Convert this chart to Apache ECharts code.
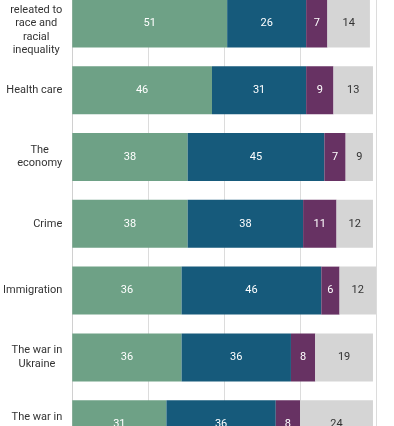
<!DOCTYPE html>
<html>
<head>
<meta charset="utf-8">
<script src="https://cdn.jsdelivr.net/npm/echarts@6/dist/echarts.min.js"></script>
<style>
html,body{margin:0;padding:0;overflow:hidden;width:394px;height:426px;background:#fff;}
#c{position:absolute;left:0;top:-20px;width:394px;height:500px;}
</style>
</head>
<body>
<div id="c"></div>
<script>
const categories = [
  "Issues\nreleated to\nrace and\nracial\ninequality",
  "Health care",
  "The\neconomy",
  "Crime",
  "Immigration",
  "The war in\nUkraine",
  "The war in\nGaza"
];
const seriesA = [51, 46, 38, 38, 36, 36, 31];
const seriesB = [26, 31, 45, 38, 46, 36, 36];
const seriesC = [7, 9, 7, 11, 6, 8, 8];
const seriesD = [14, 13, 9, 12, 12, 19, 24];
const xTicks = [0, 25, 50, 75, 100];

const colors = ['#6ea186', '#165a7b', '#673263', '#d5d5d5'];
const labelColors = ['#fff', '#fff', '#fff', '#333'];
const chart = echarts.init(document.getElementById('c'));
const mk = (name, data, i) => ({
  name, type: 'bar', stack: 'all', data,
  barWidth: 48,
  itemStyle: { color: colors[i] },
  label: { show: true, position: 'inside', color: labelColors[i], fontSize: 11, fontFamily: 'Roboto' },
  silent: true
});
chart.setOption({
  animation: false,
  grid: { left: 71, right: 18, top: 10, bottom: 22.4, containLabel: false },
  xAxis: {
    type: 'value', min: xTicks[0], max: xTicks[xTicks.length - 1], interval: xTicks[1] - xTicks[0],
    axisLabel: { show: false },
    axisLine: { show: false }, axisTick: { show: false },
    splitLine: { show: true, lineStyle: { color: '#dcdcdc', width: 1 } }
  },
  yAxis: {
    type: 'category', data: categories, inverse: true,
    axisLine: { show: true, lineStyle: { color: '#d0d0d0' } },
    axisTick: { show: false },
    axisLabel: {
      fontSize: 11, fontFamily: 'Roboto', color: '#333', lineHeight: 13.4, margin: 10, align: 'right',
      formatter: v => v.split('\n').map(s => '{c|' + s + '}').join('\n'),
      rich: { c: { align: 'center', fontSize: 11, fontFamily: 'Roboto', color: '#333', lineHeight: 13.4 } }
    }
  },
  series: [
    mk('A', seriesA, 0),
    mk('B', seriesB, 1),
    mk('C', seriesC, 2),
    mk('D', seriesD, 3)
  ]
});
</script>
</body>
</html>
